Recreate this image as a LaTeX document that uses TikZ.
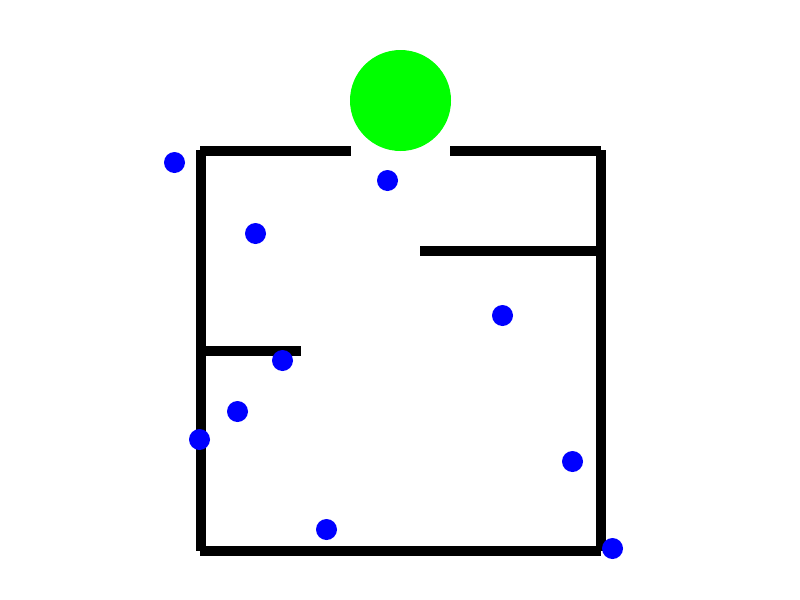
\documentclass[tikz,border=0pt]{standalone}
\tikzset{wall/.style={line width=7.5pt,black}}
\begin{document}
\begin{tikzpicture}[x=0.75pt,y=-0.75pt]
\useasboundingbox (0,0) rectangle (800,600);
\fill[white] (0,0) rectangle (800,600);
\fill[green] (400.5,100.5) circle [radius=50.5*0.75pt];
\draw[wall] (200,151) -- (351,151);
\draw[wall] (450,151) -- (601,151);
\draw[wall] (201,150) -- (201,551);
\draw[wall] (601,150) -- (601,551);
\draw[wall] (200,551) -- (601,551);
\draw[wall] (420,251) -- (601,251);
\draw[wall] (200,351) -- (301,351);
\foreach \p/\q in {174.5/162.5,387.5/180.5,255.5/233.5,502.5/315.5,282.5/360.5,237.5/411.5,199.5/439.5,572.5/461.5,326.5/529.5,612.5/548.5}
  \fill[blue] (\p,\q) circle [radius=10.5*0.75pt];
\end{tikzpicture}
\end{document}
